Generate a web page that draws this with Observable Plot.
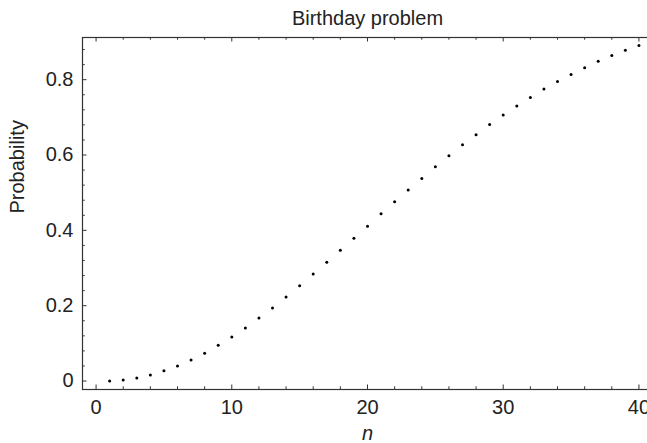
<!DOCTYPE html>
<html>
<head>
<meta charset="utf-8">
<script src="https://cdn.jsdelivr.net/npm/d3@7"></script>
<script src="https://cdn.jsdelivr.net/npm/@observablehq/plot@0.6"></script>
<style>
  html, body { margin: 0; padding: 0; background: #fff; overflow: hidden; }
  #chart { width: 647px; height: 443px; overflow: hidden; }
  #chart svg { max-width: none !important; }
</style>
</head>
<body>
<div id="chart"></div>
<script>
// Data
const groupSizes = [1,2,3,4,5,6,7,8,9,10,11,12,13,14,15,16,17,18,19,20,21,22,23,24,25,26,27,28,29,30,31,32,33,34,35,36,37,38,39,40];
const probabilities = [0.000,0.003,0.008,0.016,0.027,0.040,0.056,0.074,0.095,0.117,0.141,0.167,0.194,0.223,0.253,0.284,0.315,0.347,0.379,0.411,0.444,0.476,0.507,0.538,0.569,0.598,0.627,0.654,0.681,0.706,0.730,0.753,0.775,0.795,0.814,0.832,0.849,0.864,0.878,0.891];

const xMajorTicks = [0,10,20,30,40];
const xMinorTicks = [2,4,6,8,12,14,16,18,22,24,26,28,32,34,36,38];
const yMajorTicks = [0,0.2,0.4,0.6,0.8];
const yMinorTicks = [0.04,0.08,0.12,0.16,0.24,0.28,0.32,0.36,0.44,0.48,0.52,0.56,0.64,0.68,0.72,0.76,0.84,0.88];

const titleText = "Birthday problem";
const xLabel = "n";
const yLabel = "Probability";

const data = groupSizes.map((n, i) => ({n, p: probabilities[i]}));

const W = 660, H = 443;
const mL = 82, mR = 8, mT = 37, mB = 54;
const plotW = W - mL - mR, plotH = H - mT - mB;
const FONT = "'Liberation Sans', Arial, Helvetica, sans-serif";
const AX = "#333";

const chart = Plot.plot({
  width: W,
  height: H,
  marginLeft: mL, marginRight: mR, marginTop: mT, marginBottom: mB,
  style: {fontFamily: FONT, fontSize: "20px", color: "#222", background: "#fff", maxWidth: "none"},
  x: {domain: [-1, 41], axis: null},
  y: {domain: [-0.0225, 0.912], axis: null},
  marks: [
    Plot.frame({stroke: AX, strokeWidth: 1.2}),
    // bottom ticks (inward)
    Plot.tickX(xMajorTicks, {x: d => d, stroke: AX, insetTop: plotH - 4.5}),
    Plot.tickX(xMinorTicks, {x: d => d, stroke: AX, insetTop: plotH - 2.7}),
    // top ticks (inward)
    Plot.tickX(xMajorTicks, {x: d => d, stroke: AX, insetBottom: plotH - 4.5}),
    Plot.tickX(xMinorTicks, {x: d => d, stroke: AX, insetBottom: plotH - 2.7}),
    // left ticks (inward)
    Plot.tickY(yMajorTicks, {y: d => d, stroke: AX, insetRight: plotW - 4.5}),
    Plot.tickY(yMinorTicks, {y: d => d, stroke: AX, insetRight: plotW - 2.7}),
    // right ticks (inward)
    Plot.tickY(yMajorTicks, {y: d => d, stroke: AX, insetLeft: plotW - 4.5}),
    Plot.tickY(yMinorTicks, {y: d => d, stroke: AX, insetLeft: plotW - 2.7}),
    // tick labels
    Plot.axisX(xMajorTicks, {anchor: "bottom", tickSize: 0, tickPadding: 10, fontSize: 20, fill: "#222", label: null}),
    Plot.axisY(yMajorTicks, {anchor: "left", tickSize: 0, tickPadding: 9, fontSize: 20, fill: "#222", label: null, tickFormat: d => d === 0 ? "0" : d3.format(".1f")(d)}),
    // points
    Plot.dot(data, {x: "n", y: "p", r: 1.5, fill: "#000", stroke: null}),
    // texts
    Plot.text([titleText], {text: d => d, frameAnchor: "top", lineAnchor: "bottom", dy: -13, fontSize: 20, fill: "#222"}),
    Plot.text([xLabel], {text: d => d, frameAnchor: "bottom", lineAnchor: "bottom", dy: 50, fontSize: 20, fontStyle: "italic", fill: "#222"}),
    Plot.text([yLabel], {text: d => d, frameAnchor: "left", lineAnchor: "bottom", rotate: -90, dx: -59, fontSize: 20, fill: "#222"})
  ]
});
document.getElementById("chart").appendChild(chart);
</script>
</body>
</html>
